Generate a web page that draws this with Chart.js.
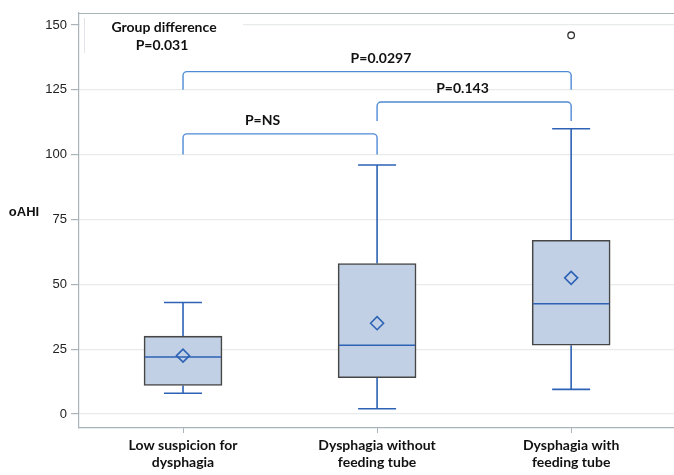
<!DOCTYPE html>
<html>
<head>
<meta charset="utf-8">
<script src="https://cdn.jsdelivr.net/npm/chart.js@4/dist/chart.umd.min.js"></script>
<style>
  html, body { margin: 0; padding: 0; background: #fff; }
  #wrap { width: 674px; height: 475px; }
</style>
</head>
<body>
<div id="wrap"><canvas id="boxChart"></canvas></div>
<script>
// categories (x axis), one box per group
var categories = [
  ['Low suspicion for', 'dysphagia'],
  ['Dysphagia without', 'feeding tube'],
  ['Dysphagia with', 'feeding tube']
];
// box plot values (oAHI)
var whiskerLow  = [8, 2, 9.5];
var q1          = [11, 14, 26.5];
var medians     = [22, 26.5, 42.5];
var q3          = [30, 58, 67];
var whiskerHigh = [43, 96, 110];
var means       = [22.5, 35, 52.5];
var outliers    = [[], [], [146]];

var yTicks = [0, 25, 50, 75, 100, 125, 150];

// pairwise comparisons: group index from/to, bracket level, leg end, label, label x (in group units)
var bracketFrom  = [0, 0, 1];
var bracketTo    = [1, 2, 2];
var bracketLevel = [108, 132, 120.3];
var bracketEnd   = [100, 125, 113];
var bracketText  = ['P=NS', 'P=0.0297', 'P=0.143'];
var bracketTextX = [0.41, 1.02, 1.44];

var groupText = ['Group difference', 'P=0.031'];

var BLUE = '#2D62B5';
var BRACKET = '#4F8AD6';
var BOLD = 'bold 14px Lato, "Open Sans", sans-serif';

var boxData = [], meanData = [], outData = [];
for (var i = 0; i < categories.length; i++) {
  boxData.push({x: i, y: [q1[i], q3[i]]});
  meanData.push({x: i, y: means[i]});
  for (var k = 0; k < outliers[i].length; k++) outData.push({x: i, y: outliers[i][k]});
}

function roundedBracket(ctx, x1, x2, yl, ye, r) {
  ctx.beginPath();
  ctx.moveTo(x1, ye);
  ctx.arcTo(x1, yl, x1 + r, yl, r);
  ctx.arcTo(x2, yl, x2, yl + r, r);
  ctx.lineTo(x2, ye);
  ctx.stroke();
}

var extras = {
  id: 'extras',
  beforeDatasetsDraw: function(chart) {
    var ctx = chart.ctx, a = chart.chartArea, xs = chart.scales.x, ys = chart.scales.y;
    ctx.save();
    // top frame line
    ctx.strokeStyle = '#A9B3BA';
    ctx.lineWidth = 1.2;
    ctx.beginPath();
    ctx.moveTo(a.left, a.top + 0.5);
    ctx.lineTo(chart.width, a.top + 0.5);
    ctx.stroke();
    // inset box (group difference)
    ctx.fillStyle = '#fff';
    ctx.fillRect(a.left + 1, a.top + 3, 163, 38);
    ctx.strokeStyle = '#E2E6EA';
    ctx.lineWidth = 1;
    ctx.beginPath();
    ctx.moveTo(a.left + 5.5, a.top + 5);
    ctx.lineTo(a.left + 5.5, a.top + 40);
    ctx.stroke();
    ctx.fillStyle = '#111';
    ctx.font = BOLD;
    ctx.textAlign = 'center';
    ctx.textBaseline = 'middle';
    ctx.fillText(groupText[0], 164, 27);
    ctx.fillText(groupText[1], 162, 45);

    // whiskers + caps
    ctx.strokeStyle = BLUE;
    ctx.lineWidth = 1.6;
    for (var i = 0; i < categories.length; i++) {
      var cx = xs.getPixelForValue(i);
      ctx.beginPath();
      ctx.moveTo(cx, ys.getPixelForValue(whiskerHigh[i]));
      ctx.lineTo(cx, ys.getPixelForValue(q3[i]));
      ctx.moveTo(cx, ys.getPixelForValue(q1[i]));
      ctx.lineTo(cx, ys.getPixelForValue(whiskerLow[i]));
      ctx.moveTo(cx - 19, ys.getPixelForValue(whiskerHigh[i]));
      ctx.lineTo(cx + 19, ys.getPixelForValue(whiskerHigh[i]));
      ctx.moveTo(cx - 19, ys.getPixelForValue(whiskerLow[i]));
      ctx.lineTo(cx + 19, ys.getPixelForValue(whiskerLow[i]));
      ctx.stroke();
    }

    // comparison brackets
    ctx.strokeStyle = BRACKET;
    ctx.lineWidth = 1.4;
    for (var j = 0; j < bracketText.length; j++) {
      var x1 = xs.getPixelForValue(bracketFrom[j]);
      var x2 = xs.getPixelForValue(bracketTo[j]);
      var yl = ys.getPixelForValue(bracketLevel[j]);
      var ye = ys.getPixelForValue(bracketEnd[j]);
      roundedBracket(ctx, x1, x2, yl, ye, 4);
      ctx.fillStyle = '#111';
      ctx.fillText(bracketText[j], xs.getPixelForValue(bracketTextX[j]), yl - 13);
    }

    // y axis title, horizontal
    ctx.font = 'bold 13px "Liberation Sans", Arial, sans-serif';
    ctx.fillText('oAHI', 24, 212);
    ctx.restore();
  },
  afterDatasetsDraw: function(chart) {
    var ctx = chart.ctx, xs = chart.scales.x, ys = chart.scales.y;
    ctx.save();
    ctx.strokeStyle = BLUE;
    ctx.lineWidth = 1.6;
    for (var i = 0; i < categories.length; i++) {
      var cx = xs.getPixelForValue(i);
      var my = ys.getPixelForValue(medians[i]);
      ctx.beginPath();
      ctx.moveTo(cx - 38, my);
      ctx.lineTo(cx + 38, my);
      ctx.stroke();
    }
    ctx.restore();
  }
};

new Chart(document.getElementById('boxChart'), {
  type: 'bar',
  data: {
    datasets: [
      {
        type: 'scatter',
        data: meanData,
        pointStyle: 'rectRot',
        pointRadius: 6.5,
        pointBorderWidth: 1.6,
        borderColor: BLUE,
        backgroundColor: 'rgba(0,0,0,0)',
        order: 0
      },
      {
        type: 'scatter',
        data: outData,
        pointStyle: 'circle',
        pointRadius: 3.3,
        pointBorderWidth: 1.3,
        borderColor: '#333',
        backgroundColor: '#fff',
        order: 0
      },
      {
        type: 'bar',
        data: boxData,
        barThickness: 78,
        backgroundColor: '#C1D0E4',
        borderColor: '#464646',
        borderWidth: 1.6,
        borderSkipped: false,
        order: 1
      }
    ]
  },
  plugins: [extras],
  options: {
    responsive: true,
    maintainAspectRatio: false,
    animation: false,
    layout: { autoPadding: false, padding: { top: 13, left: 0, right: 0, bottom: 0 } },
    plugins: {
      legend: { display: false },
      tooltip: { enabled: false }
    },
    scales: {
      x: {
        type: 'linear',
        offset: false,
        min: -0.536,
        max: 2.53,
        afterBuildTicks: function(scale) {
          scale.ticks = categories.map(function(c, i) { return {value: i}; });
        },
        afterFit: function(scale) { scale.height = 47; },
        ticks: {
          callback: function(v) { return categories[v]; },
          color: '#111',
          font: { family: 'Lato, "Open Sans", sans-serif', size: 14, weight: 'bold', lineHeight: 1.2 },
          padding: 4,
          maxRotation: 0,
          autoSkip: false
        },
        grid: { display: true, offset: false, drawOnChartArea: false, tickLength: 5, tickColor: '#A9B3BA' },
        border: { color: '#A9B3BA', width: 1.2 }
      },
      y: {
        min: -5.4,
        max: 154.6,
        afterBuildTicks: function(scale) {
          scale.ticks = yTicks.map(function(v) { return {value: v}; });
        },
        afterFit: function(scale) { scale.width = 79; },
        ticks: {
          color: '#222',
          font: { family: '"Liberation Sans", Arial, sans-serif', size: 13 },
          padding: 4
        },
        grid: { color: '#E8EAEC', lineWidth: 1.2, tickLength: 8, tickColor: '#A9B3BA' },
        border: { color: '#A9B3BA', width: 1.2 }
      }
    }
  }
});
</script>
</body>
</html>
